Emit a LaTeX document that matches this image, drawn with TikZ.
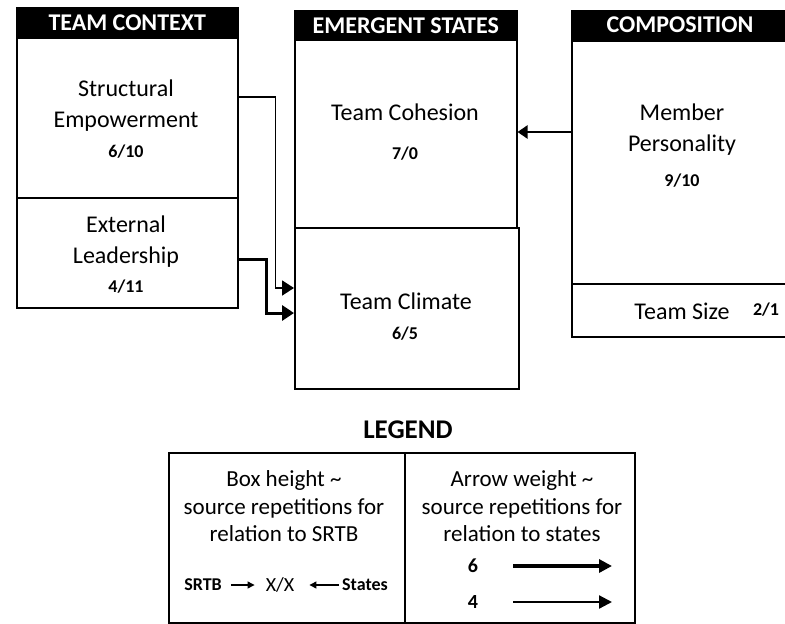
\documentclass[tikz,border=0pt]{standalone}
\usepackage{fontspec}
\setmainfont{Carlito}
\usetikzlibrary{arrows.meta,calc}
\begin{document}
\begin{tikzpicture}[x=1pt,y=-1pt,
  box/.style={draw,line width=1.5pt,inner sep=0pt,anchor=north west},
  hdr/.style={fill=black,draw=black,line width=1.5pt,inner sep=0pt,anchor=north west},
  hdrtxt/.style={text=white,font=\fontsize{24}{28}\selectfont\bfseries,inner sep=0pt},
  lbl/.style={font=\fontsize{24}{28}\selectfont,inner sep=0pt,text height=16pt,text depth=5pt},
  leg/.style={font=\fontsize{23}{27}\selectfont,inner sep=0pt,text height=16pt,text depth=5pt},
  num/.style={font=\fontsize{18}{22}\selectfont\bfseries,inner sep=0pt,text height=12pt,text depth=0pt},
  conn/.style={line width=#1,-{Triangle[length=12pt,width=15pt]}},
  legarrow/.style={line width=#1,-{Triangle[length=13pt,width=13pt]}},
  sarrow/.style={line width=1.2pt,-{Triangle[length=7pt,width=7pt]}}
]
\useasboundingbox (0,0) rectangle (785,624);
\clip (0,0) rectangle (785,624);

% ---------- TEAM CONTEXT ----------
\node[hdr,minimum width=221pt,minimum height=30pt] (tch) at (16,7) {};
\node[hdrtxt] (tct) at (tch.center) {TEAM CONTEXT};
\node[box,minimum width=221pt,minimum height=160pt] (sbox) at (16,37) {};
\node[box,minimum width=221pt,minimum height=110pt] (lbox) at (16,197) {};
\node[lbl] (s1) at (126,91) {Structural};
\node[lbl] (s2) at (126,122) {Empowerment};
\node[num] (s3) at (126,151) {6/10};
\node[lbl] (l1) at (126,227) {External};
\node[lbl] (l2) at (126,258) {Leadership};
\node[num] (l3) at (126,286) {4/11};

% ---------- EMERGENT STATES ----------
\node[hdr,minimum width=222pt,minimum height=29pt] (esh) at (294,10) {};
\node[hdrtxt] (est) at (esh.center) {EMERGENT STATES};
\node[box,minimum width=222pt,minimum height=188pt] (hbox) at (294,39) {};
\node[box,minimum width=224pt,minimum height=161pt] (cbox) at (294,227) {};
\node[lbl] (h1) at (405,115) {Team Cohesion};
\node[num] (h2) at (405,153) {7/0};
\node[lbl] (c1) at (406,304) {Team Climate};
\node[num] (c2) at (405,333) {6/5};

% ---------- COMPOSITION ----------
\node[hdr,minimum width=240pt,minimum height=30pt] (coh) at (571,10) {};
\node[hdrtxt] (cot) at (680,25) {COMPOSITION};
\node[box,minimum width=240pt,minimum height=243pt] (mbox) at (571,40) {};
\node[box,minimum width=240pt,minimum height=53pt] (zbox) at (571,283) {};
\node[lbl] (m1) at (682,115) {Member};
\node[lbl] (m2) at (682,146) {Personality};
\node[num] (m3) at (682,180) {9/10};
\node[lbl] (z1) at (682,314) {Team Size};
\node[num] (z2) at (766,309) {2/1};

% ---------- CONNECTORS ----------
\coordinate (sEnd) at ($(cbox.north west)+(0,61)$);
\coordinate (lEnd) at ($(cbox.north west)+(0,86)$);
\draw[conn=1.8pt] ($(sbox.north east)+(0,60)$) -- ++(37,0) |- (sEnd);
\draw[conn=3pt] ($(lbox.north east)+(0,62)$) -- ++(28,0) |- (lEnd);
\coordinate (mStart) at ($(mbox.north west)+(0,92)$);
\draw[line width=2.2pt,-{Triangle[length=10pt,width=13pt]}] (mStart) -- (hbox.east |- mStart);

% ---------- LEGEND ----------
\node[font=\fontsize{27}{30}\selectfont\bfseries,inner sep=0pt] (legt) at (408,430) {LEGEND};
\node[box,minimum width=236pt,minimum height=170pt] (lgl) at (168,452) {};
\node[box,minimum width=230pt,minimum height=170pt] (lgr) at (404,452) {};
\node[leg] (a1) at (284,481) {Box height \textasciitilde};
\node[leg] (a2) at (284,509) {source repetitions for};
\node[leg] (a3) at (284,536) {relation to SRTB};
\node[font=\fontsize{18}{22}\selectfont\bfseries,inner sep=0pt] (srtb) at (203,585) {SRTB};
\node[font=\fontsize{20}{24}\selectfont,inner sep=0pt] (xx) at (280,585) {X/X};
\node[font=\fontsize{18}{22}\selectfont\bfseries,inner sep=0pt] (states) at (365,585) {States};
\draw[sarrow] ($(srtb.east)+(9,0)$) -- ($(xx.west)+(-11,0)$);
\draw[sarrow] ($(states.west)+(-3,0)$) -- ($(xx.east)+(15,0)$);
\node[leg] (b1) at (522,481) {Arrow weight \textasciitilde};
\node[leg] (b2) at (522,509) {source repetitions for};
\node[leg] (b3) at (522,536) {relation to states};
\node[font=\fontsize{20}{24}\selectfont\bfseries,inner sep=0pt] (w6) at (473,566) {6};
\node[font=\fontsize{20}{24}\selectfont\bfseries,inner sep=0pt] (w4) at (473,602) {4};
\coordinate (w6a) at (513,566);
\coordinate (w6b) at (612,566);
\coordinate (w4a) at (513,602);
\coordinate (w4b) at (612,602);
\draw[legarrow=4.5pt] (w6a) -- (w6b);
\draw[legarrow=2.2pt] (w4a) -- (w4b);
\end{tikzpicture}
\end{document}
